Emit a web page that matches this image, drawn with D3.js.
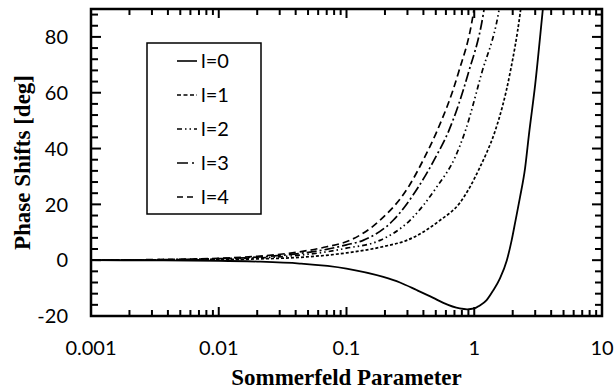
<!DOCTYPE html>
<html>
<head>
<meta charset="utf-8">
<script src="https://cdn.jsdelivr.net/npm/d3@7"></script>
<style>
  body { margin: 0; background: #fff; }
  svg { display: block; }
</style>
</head>
<body>
<div id="chart"></div>
<script>
// values: [sommerfeld parameter, phase shift in deg]
const l0Points = [
  [0.001, 0], [0.003, -0.05], [0.01, -0.2], [0.02, -0.5], [0.043, -1.2], [0.1, -3],
  [0.194, -6], [0.262, -8], [0.354, -10.7], [0.478, -13.5], [0.573, -15.3], [0.77, -17.3],
  [0.88, -17.6], [1.0, -17.3], [1.1, -16.3], [1.25, -14.3], [1.4, -11], [1.59, -6.5],
  [1.8, 0], [1.96, 7], [2.1, 14], [2.28, 22.5], [2.5, 33], [2.68, 45], [3.0, 63],
  [3.41, 88], [3.55, 96]
];
const l1Points = [
  [0.001, 0], [0.003, 0.05], [0.01, 0.2], [0.02, 0.45], [0.043, 1], [0.1, 2.6],
  [0.2, 5], [0.296, 7.1], [0.54, 14.3], [0.77, 20.5], [0.925, 26.2], [1.1, 33],
  [1.25, 38.5], [1.45, 46], [1.905, 67], [2.28, 88], [2.4, 96]
];
const l2Points = [
  [0.001, 0], [0.003, 0.1], [0.01, 0.4], [0.02, 0.8], [0.043, 1.8], [0.07, 3],
  [0.1, 4.3], [0.183, 7.1], [0.314, 14.3], [0.508, 26.2], [0.71, 37], [0.847, 46],
  [1.143, 67], [1.54, 88], [1.65, 96]
];
const l3Points = [
  [0.001, 0], [0.003, 0.15], [0.01, 0.55], [0.02, 1.1], [0.043, 2.4], [0.07, 3.9],
  [0.1, 5.5], [0.135, 7.1], [0.232, 14.3], [0.365, 26.2], [0.5, 37], [0.627, 46],
  [0.898, 67], [1.175, 88], [1.25, 96]
];
const l4Points = [
  [0.001, 0], [0.003, 0.2], [0.01, 0.7], [0.02, 1.4], [0.043, 3], [0.07, 4.8],
  [0.106, 7.1], [0.183, 14.3], [0.305, 26.2], [0.41, 37], [0.508, 46], [0.75, 67],
  [0.98, 88], [1.04, 96]
];

const seriesNames = ['l=0', 'l=1', 'l=2', 'l=3', 'l=4'];
const seriesPoints = [l0Points, l1Points, l2Points, l3Points, l4Points];
const xMajorTicks = [0.001, 0.01, 0.1, 1, 10];
const xTickLabels = ['0.001', '0.01', '0.1', '1', '10'];
const yMajorTicks = [-20, 0, 20, 40, 60, 80];
const yTickLabels = ['-20', '0', '20', '40', '60', '80'];

// line styles per series (solid, short dash, dash-dot-dot, long dash-dot, dash)
const dashes = [null, '3,2', '5,3,1.5,3,1.5,3', '10,3,2,3', '7,4'];
const legendDashes = [null, '4,2.5', '5,3,1.5,3,1.5,3', '11,4,2,3', '6,4'];

const width = 614, height = 392;
const margin = { left: 91, right: 12, top: 9, bottom: 76 };
const plotW = width - margin.left - margin.right;
const plotH = height - margin.top - margin.bottom;

const x = d3.scaleLog().domain([0.001, 10]).range([0, plotW]);
const y = d3.scaleLinear().domain([-20, 90]).range([plotH, 0]);

const svg = d3.select('#chart')
  .append('svg')
  .attr('width', width)
  .attr('height', height);

const g = svg.append('g')
  .attr('transform', `translate(${margin.left},${margin.top})`);

svg.append('defs').append('clipPath')
  .attr('id', 'plot-clip')
  .append('rect')
  .attr('width', plotW)
  .attr('height', plotH);

// Curves
const line = d3.line()
  .x(d => x(d[0]))
  .y(d => y(d[1]))
  .curve(d3.curveMonotoneX);

g.append('g')
  .attr('clip-path', 'url(#plot-clip)')
  .selectAll('path')
  .data(seriesPoints)
  .enter()
  .append('path')
  .attr('d', d => line(d))
  .attr('fill', 'none')
  .attr('stroke', '#000')
  .attr('stroke-width', (d, i) => i === 0 ? 1.8 : 1.7)
  .attr('stroke-dasharray', (d, i) => dashes[i]);

// Tick marks, all pointing inward on the four sides
const xMinor = x.ticks().filter(v => !xMajorTicks.includes(v));
const yMinor = d3.range(-20, 90, 4).filter(v => !yMajorTicks.includes(v));

const xTicks = xMajorTicks.map(v => ({ v, len: 9 }))
  .concat(xMinor.map(v => ({ v, len: 6 })));
const yTicks = yMajorTicks.map(v => ({ v, len: 10 }))
  .concat(yMinor.map(v => ({ v, len: 7 })));

const tickLayer = g.append('g')
  .attr('stroke', '#000')
  .attr('stroke-width', 2);

// bottom and top
[[plotH, -1], [0, 1]].forEach(([yPos, dir]) => {
  tickLayer.append('g').selectAll('line')
    .data(xTicks)
    .enter()
    .append('line')
    .attr('x1', d => x(d.v))
    .attr('x2', d => x(d.v))
    .attr('y1', yPos)
    .attr('y2', d => yPos + dir * d.len);
});

// left and right
[[0, 1], [plotW, -1]].forEach(([xPos, dir]) => {
  tickLayer.append('g').selectAll('line')
    .data(yTicks)
    .enter()
    .append('line')
    .attr('y1', d => y(d.v))
    .attr('y2', d => y(d.v))
    .attr('x1', xPos)
    .attr('x2', d => xPos + dir * d.len);
});

// Tick labels
const labelFont = 'Lato, "Open Sans", sans-serif';

g.append('g').selectAll('text')
  .data(xMajorTicks)
  .enter()
  .append('text')
  .attr('x', d => x(d))
  .attr('y', plotH + 39)
  .attr('text-anchor', 'middle')
  .attr('font-family', labelFont)
  .attr('font-size', 20)
  .text((d, i) => xTickLabels[i]);

g.append('g').selectAll('text')
  .data(yMajorTicks)
  .enter()
  .append('text')
  .attr('x', -23)
  .attr('y', d => y(d))
  .attr('dy', '0.36em')
  .attr('text-anchor', 'end')
  .attr('font-family', labelFont)
  .attr('font-size', 20)
  .text((d, i) => yTickLabels[i]);

// Frame
g.append('rect')
  .attr('width', plotW)
  .attr('height', plotH)
  .attr('fill', 'none')
  .attr('stroke', '#000')
  .attr('stroke-width', 2.5);

// Axis titles
svg.append('text')
  .attr('x', margin.left + plotW / 2)
  .attr('y', 385)
  .attr('text-anchor', 'middle')
  .attr('font-family', '"Liberation Serif", "Times New Roman", serif')
  .attr('font-weight', 'bold')
  .attr('font-size', 23)
  .text('Sommerfeld Parameter');

svg.append('text')
  .attr('transform', `translate(30,${margin.top + plotH / 2}) rotate(-90)`)
  .attr('text-anchor', 'middle')
  .attr('font-family', '"Liberation Serif", "Times New Roman", serif')
  .attr('font-weight', 'bold')
  .attr('font-size', 23)
  .text('Phase Shifts [deg]');

// Legend
const legend = svg.append('g').attr('transform', 'translate(147,43)');
legend.append('rect')
  .attr('width', 114)
  .attr('height', 171)
  .attr('fill', '#fff')
  .attr('stroke', '#000')
  .attr('stroke-width', 1.5);

const rows = legend.selectAll('g.row')
  .data(seriesNames)
  .enter()
  .append('g')
  .attr('class', 'row')
  .attr('transform', (d, i) => `translate(0,${18 + i * 34})`);

rows.append('line')
  .attr('x1', 30)
  .attr('x2', 50)
  .attr('stroke', '#000')
  .attr('stroke-width', 1.6)
  .attr('stroke-dasharray', (d, i) => legendDashes[i]);

rows.append('text')
  .attr('x', 54)
  .attr('dy', '0.36em')
  .attr('font-family', labelFont)
  .attr('font-size', 20)
  .text(d => d);
</script>
</body>
</html>
